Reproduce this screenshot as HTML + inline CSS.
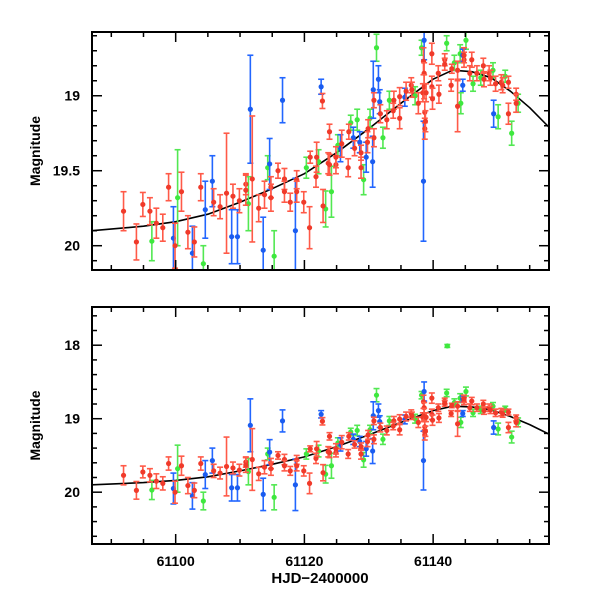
<!DOCTYPE html>
<html><head><meta charset="utf-8"><style>
html,body{margin:0;padding:0;background:#fff;}
svg{display:block;}
text{font-family:"Liberation Sans",sans-serif;font-weight:bold;fill:#000;}
</style></head><body>
<svg id="chart" width="600" height="600" viewBox="0 0 600 600">
<defs>
<clipPath id="clipTop"><rect x="92" y="32" width="457" height="238"/></clipPath>
<clipPath id="clipBot"><rect x="92" y="307" width="457" height="237"/></clipPath>
</defs>
<g id="plots"></g>
<text x="320" y="583" font-size="15" text-anchor="middle">HJD−2400000</text>
</svg>
<script>
// ---- data ----
const redDays = [61091.9,61093.9,61094.9,61096,61097,61098,61098.9,61099.9,61100.9,61101.9,61102.9,61103.9,61105.9,61106.9,61107.9,61108.9,61109.9,61110.9,61110.9,61111.9,61112.9,61113.8,61114.8,61114.8,61115.9,61116.9,61116.9,61117.8,61118.8,61118.8,61119.9,61120.8,61120.9,61121.8,61121.9,61122.8,61122.9,61123.7,61123.9,61123.9,61124.9,61124.9,61125.8,61126.8,61126.9,61127.8,61128.8,61128.8,61129.8,61129.9,61130.8,61130.8,61131.8,61132.8,61133.9,61133.8,61134.8,61134.8,61135.8,61136.6,61136.7,61137.7,61138.4,61138.5,61138.6,61138.6,61138.7,61138.7,61138.8,61138.9,61139.8,61139.8,61139.9,61140.8,61140.9,61141.8,61141.8,61142.8,61142.9,61143.8,61143.8,61144.8,61144.8,61145.7,61146.0,61146.8,61147.8,61147.9,61148.7,61148.9,61149.7,61150.6,61150.8,61151.7,61151.7,61152.9,61152.9];
const redMags = [19.77,19.975,19.725,19.77,19.85,19.88,19.61,20.00,19.64,19.91,19.975,19.61,19.71,19.74,19.65,19.67,19.70,19.59,19.63,19.555,19.75,19.66,19.61,19.68,19.50,19.555,19.64,19.71,19.56,19.64,19.71,19.88,19.41,19.54,19.41,19.035,19.735,19.45,19.24,19.46,19.46,19.41,19.32,19.48,19.24,19.35,19.48,19.38,19.31,19.22,19.03,19.28,19.12,19.16,19.03,19.10,19.15,19.006,18.97,18.93,18.96,19.05,18.98,18.77,18.85,18.94,19.11,19.22,19.17,18.98,18.72,18.94,19.02,18.85,18.99,18.76,18.79,18.93,18.82,19.07,18.83,18.76,18.73,18.85,18.76,18.85,18.80,18.89,18.85,18.88,18.92,18.91,18.93,18.91,19.12,18.99,19.05];
const redErrs = [0.13,0.12,0.08,0.09,0.10,0.09,0.09,0.15,0.13,0.11,0.10,0.09,0.09,0.08,0.40,0.08,0.08,0.07,0.10,0.42,0.09,0.09,0.07,0.09,0.05,0.07,0.07,0.06,0.06,0.07,0.07,0.14,0.04,0.07,0.10,0.05,0.11,0.07,0.05,0.07,0.06,0.07,0.09,0.06,0.05,0.05,0.07,0.05,0.07,0.06,0.05,0.06,0.06,0.06,0.06,0.05,0.07,0.06,0.06,0.05,0.05,0.07,0.06,0.09,0.07,0.08,0.07,0.07,0.07,0.06,0.07,0.07,0.07,0.05,0.06,0.04,0.04,0.04,0.03,0.17,0.06,0.05,0.05,0.05,0.05,0.05,0.05,0.05,0.05,0.05,0.05,0.05,0.05,0.04,0.07,0.04,0.06];
const blueDays = [61099.65,61102.6,61104.6,61105.7,61108.7,61109.6,61111.6,61113.6,61114.6,61116.6,61118.6,61122.6,61125.6,61127.6,61128.6,61129.6,61130.6,61130.7,61131.5,61131.7,61135.6,61138.5,61138.6,61144.6,61144.6,61149.4];
const blueMags = [19.95,20.05,19.76,19.57,19.94,19.94,19.09,20.03,19.455,19.03,19.90,18.94,19.35,19.28,19.31,19.41,19.44,18.96,18.89,19.04,19.01,19.57,18.63,18.93,18.73,19.12];
const blueErrs = [0.21,0.18,0.19,0.17,0.18,0.18,0.36,0.22,0.17,0.15,0.35,0.05,0.09,0.07,0.07,0.10,0.17,0.19,0.09,0.08,0.06,0.40,0.13,0.04,0.04,0.09];
const greenDays = [61096.3,61100.3,61104.3,61111.3,61114.3,61115.3,61120.3,61122.2,61123.3,61124.2,61125.2,61127.2,61128.2,61129.2,61130.2,61131.2,61132.2,61133.2,61137.2,61138.2,61142.1,61142.2,61143.3,61144.2,61144.3,61145.1,61146.2,61147.4,61149.3,61150.1,61151.2,61152.2,61153.2];
const greenMags = [19.97,19.68,20.12,19.72,19.48,20.07,19.48,19.44,19.755,19.64,19.33,19.18,19.16,19.56,19.15,18.68,19.28,19.03,19.00,18.68,18.65,18.01,18.78,18.72,19.05,18.63,18.92,18.88,18.83,19.14,18.87,19.25,19.05];
const greenErrs = [0.13,0.32,0.12,0.18,0.08,0.17,0.07,0.08,0.12,0.17,0.07,0.05,0.07,0.10,0.06,0.09,0.07,0.06,0.06,0.05,0.05,0.02,0.05,0.06,0.07,0.06,0.05,0.05,0.05,0.08,0.04,0.08,0.06];
const modelDays = [61087,61095,61100,61105,61110,61115,61120,61125,61130,61135,61140,61143,61146,61149,61152,61155,61158];
const modelMags = [19.90,19.87,19.84,19.79,19.71,19.62,19.52,19.38,19.22,19.05,18.89,18.83,18.84,18.88,18.97,19.08,19.21];
const xTickLabels = ["61100","61120","61140"];
const topYTickLabels = ["19","19.5","20"];
const botYTickLabels = ["18","19","20"];

const NS = "http://www.w3.org/2000/svg";
const root = document.getElementById("plots");
function mk(tag, attrs, parent){
  const e = document.createElementNS(NS, tag);
  for (const k in attrs) e.setAttribute(k, attrs[k]);
  (parent||root).appendChild(e);
  return e;
}
const X0 = 92, X1 = 549, D0 = 61087, D1 = 61158;
function xScale(d){ return X0 + (d - D0) / (D1 - D0) * (X1 - X0); }

const panels = [
  {name:"top", y0:32, y1:270, m0:18.575, m1:20.162, minor:0.1, major:0.5, labels:topYTickLabels, clip:"clipTop"},
  {name:"bottom", y0:307, y1:544, m0:17.48, m1:20.705, minor:0.2, major:1.0, labels:botYTickLabels, clip:"clipBot"}
];
const series = [
  {name:"green", days:greenDays, mags:greenMags, errs:greenErrs, fill:"#3ee83e", bar:"#52e852"},
  {name:"blue", days:blueDays, mags:blueMags, errs:blueErrs, fill:"#1a5cf0", bar:"#2266ff"},
  {name:"red", days:redDays, mags:redMags, errs:redErrs, fill:"#f03a2a", bar:"#ff5a48"}
];

panels.forEach(p => {
  const yScale = m => p.y0 + (m - p.m0) / (p.m1 - p.m0) * (p.y1 - p.y0);
  const g = mk("g", {});
  
  
  const plot = mk("g", {"clip-path":"url(#" + p.clip + ")"}, g);
  // model curve
  let dstr = "";
  modelDays.forEach((d,i) => {
    const px = xScale(d), py = yScale(modelMags[i]);
    dstr += (i ? " L" : "M") + px.toFixed(1) + " " + py.toFixed(1);
  });
  const curve = mk("path", {d:dstr, fill:"none", stroke:"#000", "stroke-width":1.6, "stroke-linejoin":"round"}, plot);
  
  
  series.forEach(s => {
    const sg = mk("g", {}, plot);
    
    
    s.days.forEach((d,i) => {
      const px = xScale(d), py = yScale(s.mags[i]);
      const ya = yScale(s.mags[i] - s.errs[i]), yb = yScale(s.mags[i] + s.errs[i]);
      const pg = mk("g", {}, sg);
      
      
      mk("line", {x1:px, x2:px, y1:ya, y2:yb, stroke:s.bar, "stroke-width":1.6}, pg);
      mk("line", {x1:px-3, x2:px+3, y1:ya, y2:ya, stroke:s.bar, "stroke-width":1.6}, pg);
      mk("line", {x1:px-3, x2:px+3, y1:yb, y2:yb, stroke:s.bar, "stroke-width":1.6}, pg);
      mk("circle", {cx:px, cy:py, r:2.6, fill:s.fill}, pg);
    });
  });
  // frame
  const fr = mk("rect", {x:X0, y:p.y0, width:X1-X0, height:p.y1-p.y0, fill:"none", stroke:"#000", "stroke-width":2}, g);
  
  
  // x ticks
  for (let d = 61090; d <= D1; d += 5) {
    const px = xScale(d), maj = (d % 20 === 0);
    const L = maj ? 10 : 5;
    mk("line", {x1:px, x2:px, y1:p.y1, y2:p.y1-L, stroke:"#000", "stroke-width":1.5}, g);
    mk("line", {x1:px, x2:px, y1:p.y0, y2:p.y0+L, stroke:"#000", "stroke-width":1.5}, g);
  }
  // y ticks
  const nMinor = Math.round((Math.ceil(p.m1 / p.minor) - Math.floor(p.m0 / p.minor)));
  for (let k = Math.ceil(p.m0 / p.minor); k <= Math.floor(p.m1 / p.minor); k++) {
    const m = k * p.minor, py = yScale(m);
    const maj = Math.abs(m / p.major - Math.round(m / p.major)) < 1e-6;
    const L = maj ? 10 : 5;
    mk("line", {x1:X0, x2:X0+L, y1:py, y2:py, stroke:"#000", "stroke-width":1.5}, g);
    mk("line", {x1:X1, x2:X1-L, y1:py, y2:py, stroke:"#000", "stroke-width":1.5}, g);
  }
  p.labels.forEach(lab => {
    const t = mk("text", {x:X0-12, y:yScale(parseFloat(lab))+5, "font-size":14, "text-anchor":"end"}, g);
    t.textContent = lab;
    
    
  });
  const yc = (p.y0 + p.y1) / 2;
  const yt = mk("text", {x:0, y:0, "font-size":14, "text-anchor":"middle", transform:"translate(40," + yc + ") rotate(-90)"}, g);
  yt.textContent = "Magnitude";
  
  
  if (p.name === "bottom") {
    xTickLabels.forEach(lab => {
      const t = mk("text", {x:xScale(parseFloat(lab)), y:566, "font-size":14, "text-anchor":"middle"}, g);
      t.textContent = lab;
      
      
    });
  }
});
</script>
</body></html>
